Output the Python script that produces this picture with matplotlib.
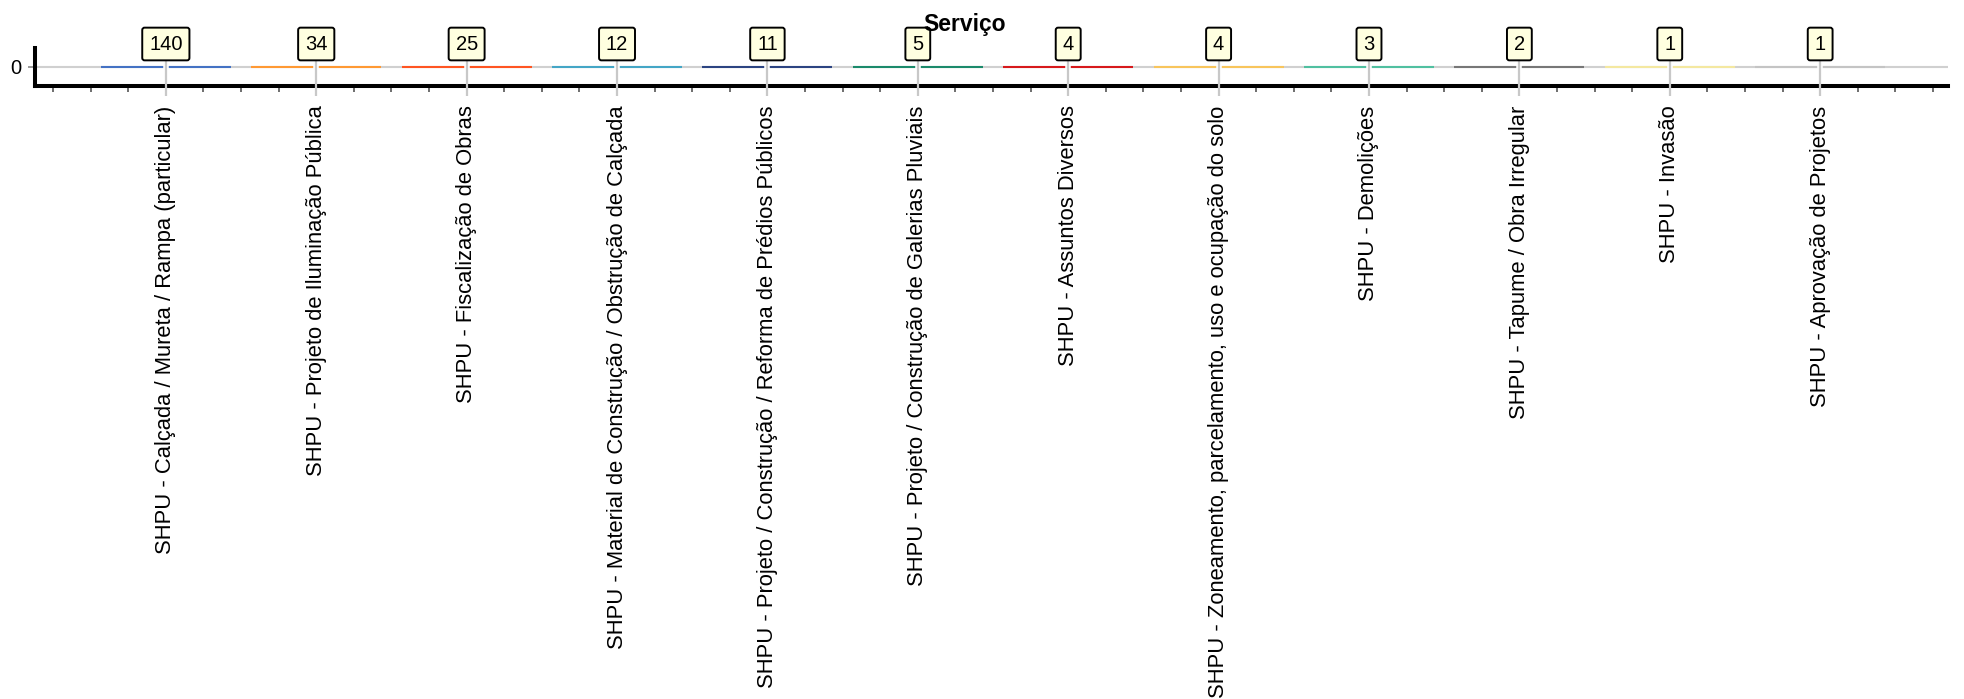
import matplotlib
matplotlib.use("Agg")
import matplotlib.pyplot as plt
from matplotlib.ticker import MultipleLocator
import numpy as np

plt.rcParams['font.family'] = ['Liberation Sans', 'DejaVu Sans']

# ---- data ----
categories = [
    "SHPU - Calçada / Mureta / Rampa (particular)",
    "SHPU - Projeto de Iluminação Pública",
    "SHPU - Fiscalização de Obras",
    "SHPU - Material de Construção / Obstrução de Calçada",
    "SHPU - Projeto / Construção / Reforma de Prédios Públicos",
    "SHPU - Projeto / Construção de Galerias Pluviais",
    "SHPU - Assuntos Diversos",
    "SHPU - Zoneamento, parcelamento, uso e ocupação do solo",
    "SHPU - Demolições",
    "SHPU - Tapume / Obra Irregular",
    "SHPU - Invasão",
    "SHPU - Aprovação de Projetos",
]
counts = [140, 34, 25, 12, 11, 5, 4, 4, 3, 2, 1, 1]
bar_heights = [0, 0, 0, 0, 0, 0, 0, 0, 0, 0, 0, 0]  # bars as drawn (flat at zero)
colors = ["#4472c4", "#ff9933", "#ff5522", "#44a6c6", "#2c4482", "#1b8a6b",
          "#d7191c", "#f8c55c", "#50c0a0", "#777777", "#f4e8a0", "#c4c4c4"]
title = "Serviço"

W, H = 1965, 699
fig = plt.figure(figsize=(W / 100, H / 100), dpi=100)
ax = fig.add_axes([35 / W, 613 / H, (1948 - 35) / W, 38 / H])

x = np.arange(len(categories))
ax.axhline(0, color="#d0d0d0", lw=1.5, zorder=1)
ax.bar(x, bar_heights, width=0.865, color="none", edgecolor=colors,
       linewidth=1.5, zorder=2)

ax.set_xlim(-0.87, 11.85)
ax.set_ylim(-1, 1)

# vertical gray guide lines through each category
tr = ax.get_xaxis_transform()
ax.vlines(x, 0.35, 0.65, transform=tr, color="white", lw=4, zorder=3, clip_on=False)
ax.vlines(x, -0.26, 0.74, transform=tr, color="#c8c8c8", lw=1.6, zorder=4, clip_on=False)

# value boxes
for xi, c in zip(x, counts):
    ax.annotate(str(c), xy=(xi, 1), xycoords=tr,
                xytext=(0, 4), textcoords="offset pixels",
                ha="center", va="center", fontsize=14.5, zorder=6,
                annotation_clip=False,
                bbox=dict(boxstyle="round,pad=0.34,rounding_size=0.12",
                          fc="#ffffe0", ec="black", lw=1.4))

# spines
for s in ["top", "right"]:
    ax.spines[s].set_visible(False)
ax.spines["bottom"].set_linewidth(2.9)
ax.spines["left"].set_linewidth(2.9)
ax.spines["bottom"].set_color("black")
ax.spines["left"].set_color("black")

# ticks
ax.set_xticks(x)
ax.set_xticklabels(categories, rotation=90, fontsize=15.8, ha="center", va="top")
ax.xaxis.set_minor_locator(MultipleLocator(0.25))
ax.tick_params(axis="x", which="major", length=0, pad=14)
ax.tick_params(axis="x", which="minor", length=4, width=1.2, color="#555555")
ax.set_yticks([0])
ax.set_yticklabels(["0"], fontsize=14.5)
ax.tick_params(axis="y", which="major", length=5, width=1.2, color="#888888", pad=5)

fig.text(965 / W, 1 - 24 / H, title, ha="center", va="center",
         fontsize=16.5, fontweight="bold", zorder=5)

fig.savefig("out.png", dpi=100)
